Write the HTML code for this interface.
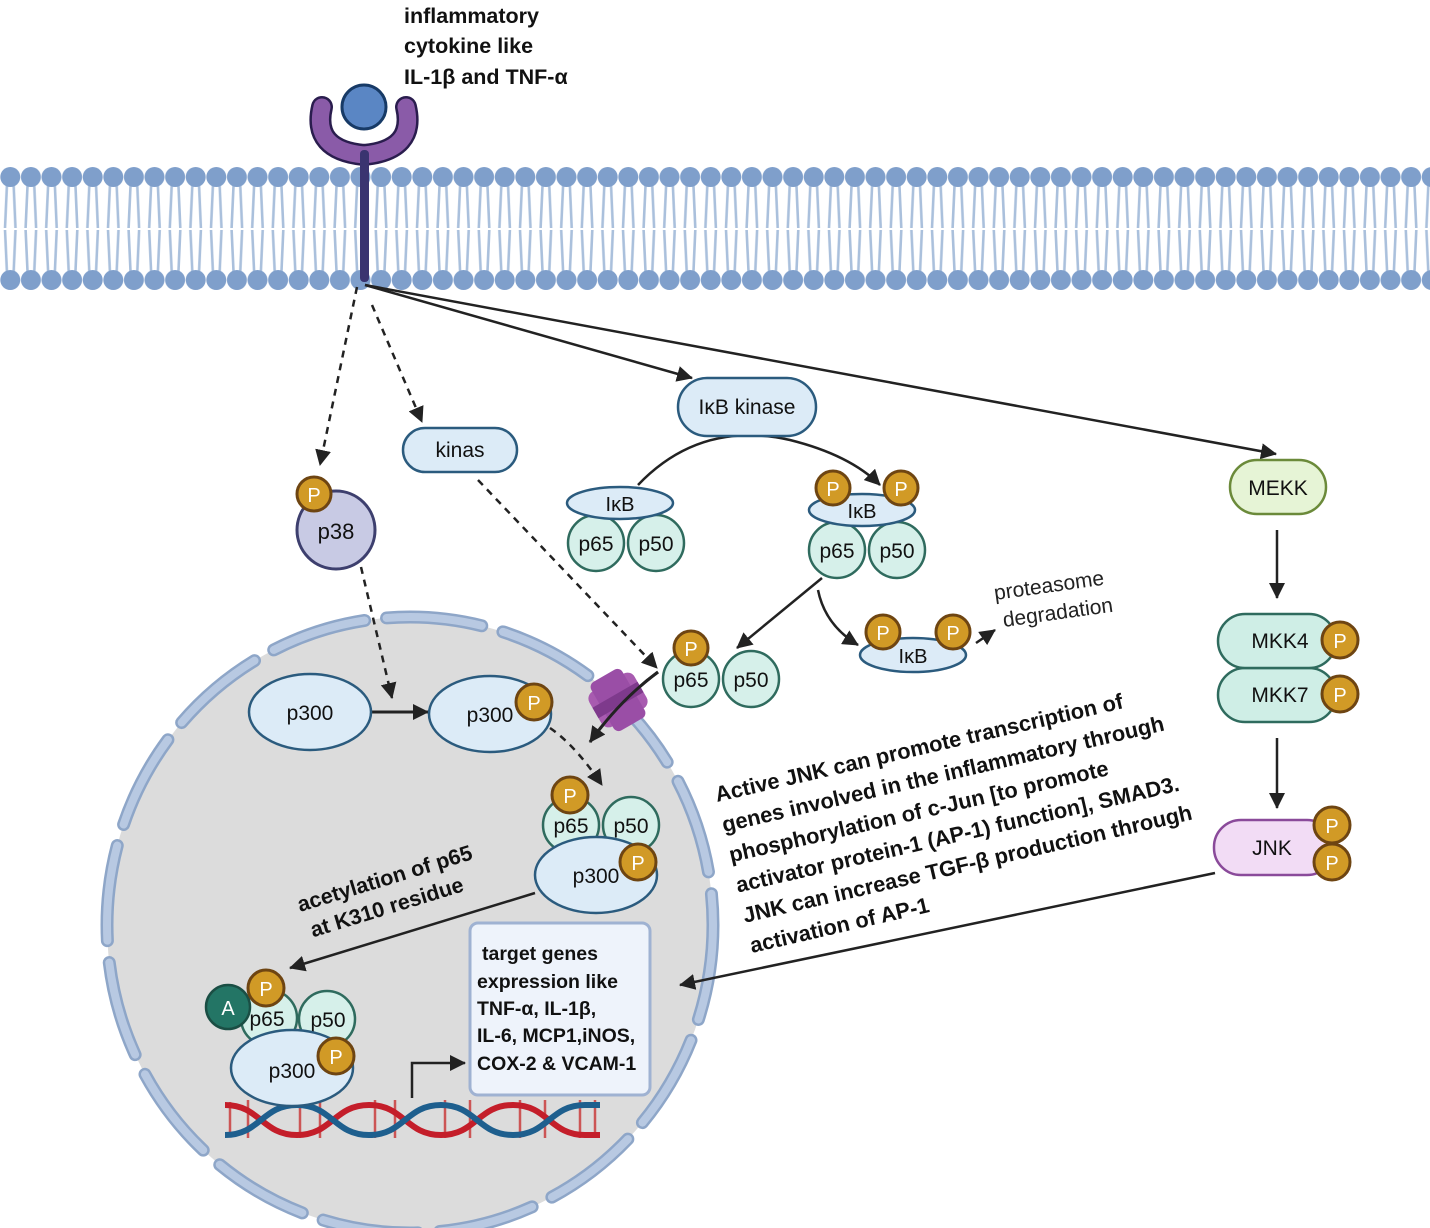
<!DOCTYPE html>
<html><head><meta charset="utf-8"><style>
html,body{margin:0;padding:0;background:#fff}
svg{display:block}
text{font-family:"Liberation Sans",sans-serif}
</style></head><body>
<svg width="1430" height="1228" viewBox="0 0 1430 1228" xmlns="http://www.w3.org/2000/svg">
<defs>
<pattern id="mem" x="0" y="0" width="20.6" height="300" patternUnits="userSpaceOnUse">
<path d="M7.3 177 L5 228 M13.3 177 L15.5 228 M5 230 L7.3 280 M15.5 230 L13.3 280" stroke="#aac0dc" stroke-width="2.6" fill="none"/>
<circle cx="10.3" cy="177" r="10" fill="#7f9fcb"/>
<circle cx="10.3" cy="280" r="10" fill="#7f9fcb"/>
</pattern>
<marker id="ab" markerWidth="18" markerHeight="16" refX="15" refY="8" orient="auto" markerUnits="userSpaceOnUse"><path d="M0 0 L16 8 L0 16 z" fill="#222"/></marker>
</defs>
<!-- membrane -->
<rect x="0" y="160" width="1430" height="135" fill="url(#mem)"/>
<!-- nucleus -->
<ellipse cx="410" cy="925" rx="303" ry="308" fill="#dcdcdc"/>
<ellipse cx="410" cy="925" rx="303" ry="308" fill="none" stroke="#8ea6c8" stroke-width="13" stroke-dasharray="96 22" stroke-linecap="round"/>
<ellipse cx="410" cy="925" rx="303" ry="308" fill="none" stroke="#b8c9e2" stroke-width="8" stroke-dasharray="96 22" stroke-linecap="round"/>
<!-- receptor -->
<path d="M322 107 Q312 150 364 155 Q416 150 406 107" fill="none" stroke="#2a1d4e" stroke-width="22" stroke-linecap="round"/>
<path d="M322 107 Q312 150 364 155 Q416 150 406 107" fill="none" stroke="#8a5ba8" stroke-width="17" stroke-linecap="round"/>
<rect x="360" y="150" width="9" height="132" rx="4" fill="#3a3470"/>
<circle cx="364" cy="107" r="22" fill="#5a86c4" stroke="#173a66" stroke-width="3"/>
<text font-weight="bold" font-size="21.5" fill="#111"><tspan x="404" y="23">inflammatory</tspan><tspan x="404" y="53">cytokine like</tspan><tspan x="404" y="84">IL-1β and TNF-α</tspan></text>
<!-- arrows -->
<g stroke="#222" stroke-width="2.5" fill="none">
<path d="M357 287 L320 465" stroke-dasharray="7 6" marker-end="url(#ab)"/>
<path d="M372 305 L422 422" stroke-dasharray="7 6" marker-end="url(#ab)"/>
<path d="M365 285 L692 378" marker-end="url(#ab)"/>
<path d="M365 285 L1276 454" marker-end="url(#ab)"/>
<path d="M478 480 L657 668" stroke-dasharray="7 6" marker-end="url(#ab)"/>
<path d="M361 567 L392 698" stroke-dasharray="7 6" marker-end="url(#ab)"/>
<path d="M372 712 L428 712" stroke-width="3" marker-end="url(#ab)"/>
<path d="M550 728 Q575 745 602 785" stroke-dasharray="7 6" marker-end="url(#ab)"/>
<path d="M658 672 Q620 700 590 742" stroke-width="3" marker-end="url(#ab)"/>
<path d="M638 485 Q700 420 790 440 Q850 455 880 485" marker-end="url(#ab)"/>
<path d="M822 578 L737 648" marker-end="url(#ab)"/>
<path d="M818 590 Q825 625 858 645" marker-end="url(#ab)"/>
<path d="M976 643 L995 630" marker-end="url(#ab)"/>
<path d="M1277 530 L1277 598" marker-end="url(#ab)"/>
<path d="M1277 738 L1277 808" marker-end="url(#ab)"/>
<path d="M1215 873 L680 985" marker-end="url(#ab)"/>
<path d="M535 893 L290 968" marker-end="url(#ab)"/>
<path d="M412 1098 L412 1063 L465 1063" stroke-width="2.5" marker-end="url(#ab)"/>
</g>
<!-- nuclear pore -->
<g transform="rotate(-30 618 700)">
<rect x="592" y="680" width="52" height="40" rx="8" fill="#a85bb0"/>
<rect x="600" y="672" width="36" height="56" rx="6" fill="#9a4ea6"/>
<rect x="592" y="694" width="52" height="12" fill="#7e3a8c"/>
</g>
<path d="M658 672 Q620 700 590 742" stroke="#222" stroke-width="3" fill="none"/>
<!-- p38 -->
<circle cx="336" cy="530" r="39" fill="#c8cae4" stroke="#3d3f6e" stroke-width="3"/>
<text x="336" y="539" font-size="22" text-anchor="middle" fill="#111">p38</text>
<circle cx="314" cy="494" r="17" fill="#d19a26" stroke="#6e4512" stroke-width="3"/><text x="314" y="502" font-size="20" fill="#fff" text-anchor="middle">P</text>
<!-- kinas -->
<rect x="403" y="428" width="114" height="44" rx="22" fill="#dcebf7" stroke="#2b5b7e" stroke-width="2.5"/>
<text x="460" y="457" font-size="21" text-anchor="middle" fill="#111">kinas</text>
<!-- IkB kinase -->
<rect x="678" y="378" width="138" height="58" rx="29" fill="#dcebf7" stroke="#2b5b7e" stroke-width="2.5"/>
<text x="747" y="414" font-size="21" text-anchor="middle" fill="#111">IκB kinase</text>
<!-- IkB complex left -->
<circle cx="596" cy="543" r="28" fill="#d6f0ea" stroke="#2f6b5e" stroke-width="2.5"/>
<circle cx="656" cy="543" r="28" fill="#d6f0ea" stroke="#2f6b5e" stroke-width="2.5"/>
<ellipse cx="620" cy="503" rx="53" ry="16" fill="#dcebf7" stroke="#2b5b7e" stroke-width="2.5"/>
<text x="620" y="511" font-size="20" text-anchor="middle" fill="#111">IκB</text>
<text x="596" y="551" font-size="21" text-anchor="middle" fill="#111">p65</text>
<text x="656" y="551" font-size="21" text-anchor="middle" fill="#111">p50</text>
<!-- IkB complex right -->
<circle cx="837" cy="550" r="28" fill="#d6f0ea" stroke="#2f6b5e" stroke-width="2.5"/>
<circle cx="897" cy="550" r="28" fill="#d6f0ea" stroke="#2f6b5e" stroke-width="2.5"/>
<ellipse cx="862" cy="510" rx="53" ry="16" fill="#dcebf7" stroke="#2b5b7e" stroke-width="2.5"/>
<text x="862" y="518" font-size="20" text-anchor="middle" fill="#111">IκB</text>
<text x="837" y="558" font-size="21" text-anchor="middle" fill="#111">p65</text>
<text x="897" y="558" font-size="21" text-anchor="middle" fill="#111">p50</text>
<circle cx="833" cy="488" r="17" fill="#d19a26" stroke="#6e4512" stroke-width="3"/><text x="833" y="496" font-size="20" fill="#fff" text-anchor="middle">P</text>
<circle cx="901" cy="488" r="17" fill="#d19a26" stroke="#6e4512" stroke-width="3"/><text x="901" y="496" font-size="20" fill="#fff" text-anchor="middle">P</text>
<!-- IkB degraded -->
<ellipse cx="913" cy="655" rx="53" ry="17" fill="#dcebf7" stroke="#2b5b7e" stroke-width="2.5"/>
<text x="913" y="663" font-size="20" text-anchor="middle" fill="#111">IκB</text>
<circle cx="883" cy="632" r="17" fill="#d19a26" stroke="#6e4512" stroke-width="3"/><text x="883" y="640" font-size="20" fill="#fff" text-anchor="middle">P</text>
<circle cx="953" cy="632" r="17" fill="#d19a26" stroke="#6e4512" stroke-width="3"/><text x="953" y="640" font-size="20" fill="#fff" text-anchor="middle">P</text>
<text font-size="21" fill="#222" transform="rotate(-8 995 600)"><tspan x="995" y="600">proteasome</tspan><tspan x="1000" y="628">degradation</tspan></text>
<!-- free p65 p50 -->
<circle cx="691" cy="679" r="28" fill="#d6f0ea" stroke="#2f6b5e" stroke-width="2.5"/>
<circle cx="751" cy="679" r="28" fill="#d6f0ea" stroke="#2f6b5e" stroke-width="2.5"/>
<text x="691" y="687" font-size="21" text-anchor="middle" fill="#111">p65</text>
<text x="751" y="687" font-size="21" text-anchor="middle" fill="#111">p50</text>
<circle cx="691" cy="648" r="17" fill="#d19a26" stroke="#6e4512" stroke-width="3"/><text x="691" y="656" font-size="20" fill="#fff" text-anchor="middle">P</text>
<!-- MEKK chain -->
<rect x="1230" y="460" width="96" height="54" rx="27" fill="#e6f4d6" stroke="#6b8a3a" stroke-width="2.5"/>
<text x="1278" y="495" font-size="21" text-anchor="middle" fill="#111">MEKK</text>
<rect x="1218" y="668" width="118" height="54" rx="27" fill="#cfeee6" stroke="#2f6b5e" stroke-width="2.5"/>
<rect x="1218" y="614" width="118" height="54" rx="27" fill="#cfeee6" stroke="#2f6b5e" stroke-width="2.5"/>
<text x="1280" y="648" font-size="21" text-anchor="middle" fill="#111">MKK4</text>
<text x="1280" y="702" font-size="21" text-anchor="middle" fill="#111">MKK7</text>
<circle cx="1340" cy="640" r="18" fill="#d19a26" stroke="#6e4512" stroke-width="3"/><text x="1340" y="648" font-size="20" fill="#fff" text-anchor="middle">P</text>
<circle cx="1340" cy="694" r="18" fill="#d19a26" stroke="#6e4512" stroke-width="3"/><text x="1340" y="702" font-size="20" fill="#fff" text-anchor="middle">P</text>
<rect x="1214" y="820" width="120" height="55" rx="27" fill="#f2dcf5" stroke="#8a4a9a" stroke-width="2.5"/>
<text x="1272" y="855" font-size="21" text-anchor="middle" fill="#111">JNK</text>
<circle cx="1332" cy="825" r="18" fill="#d19a26" stroke="#6e4512" stroke-width="3"/><text x="1332" y="833" font-size="20" fill="#fff" text-anchor="middle">P</text>
<circle cx="1332" cy="862" r="18" fill="#d19a26" stroke="#6e4512" stroke-width="3"/><text x="1332" y="870" font-size="20" fill="#fff" text-anchor="middle">P</text>
<!-- JNK text -->
<g transform="rotate(-13 717 802)" font-weight="bold" font-size="21.8" fill="#111">
<text x="717" y="802">Active JNK can promote transcription of</text>
<text x="717" y="833">genes involved in the inflammatory through</text>
<text x="717" y="864">phosphorylation of c-Jun [to promote</text>
<text x="717" y="895">activator protein-1 (AP-1) function], SMAD3.</text>
<text x="717" y="926">JNK can increase TGF-β production through</text>
<text x="717" y="957">activation of AP-1</text>
</g>
<!-- p300 -->
<ellipse cx="310" cy="712" rx="61" ry="38" fill="#dcebf7" stroke="#2b5b7e" stroke-width="2.5"/>
<text x="310" y="720" font-size="21" text-anchor="middle" fill="#111">p300</text>
<ellipse cx="490" cy="714" rx="61" ry="38" fill="#dcebf7" stroke="#2b5b7e" stroke-width="2.5"/>
<text x="490" y="722" font-size="21" text-anchor="middle" fill="#111">p300</text>
<circle cx="534" cy="702" r="18" fill="#d19a26" stroke="#6e4512" stroke-width="3"/><text x="534" y="710" font-size="20" fill="#fff" text-anchor="middle">P</text>
<!-- complex middle -->
<circle cx="571" cy="825" r="28" fill="#d6f0ea" stroke="#2f6b5e" stroke-width="2.5"/>
<circle cx="631" cy="825" r="28" fill="#d6f0ea" stroke="#2f6b5e" stroke-width="2.5"/>
<text x="571" y="833" font-size="21" text-anchor="middle" fill="#111">p65</text>
<text x="631" y="833" font-size="21" text-anchor="middle" fill="#111">p50</text>
<ellipse cx="596" cy="875" rx="61" ry="38" fill="#dcebf7" stroke="#2b5b7e" stroke-width="2.5"/>
<text x="596" y="883" font-size="21" text-anchor="middle" fill="#111">p300</text>
<circle cx="570" cy="795" r="18" fill="#d19a26" stroke="#6e4512" stroke-width="3"/><text x="570" y="803" font-size="20" fill="#fff" text-anchor="middle">P</text>
<circle cx="638" cy="862" r="18" fill="#d19a26" stroke="#6e4512" stroke-width="3"/><text x="638" y="870" font-size="20" fill="#fff" text-anchor="middle">P</text>
<text font-weight="bold" font-size="21.5" fill="#111" transform="rotate(-17 300 912)"><tspan x="300" y="912">acetylation of p65</tspan><tspan x="305" y="940">at K310 residue</tspan></text>
<!-- DNA -->
<path d="M230 1102 L230 1136 M248 1100 L248 1138 M300 1100 L300 1138 M320 1100 L320 1138 M375 1100 L375 1138 M395 1100 L395 1138 M445 1100 L445 1138 M470 1100 L470 1138 M520 1100 L520 1138 M545 1100 L545 1138 M580 1100 L580 1138 M595 1100 L595 1138" stroke="#c55" stroke-width="2.5"/>
<path d="M225 1105 C260 1105 262 1135 297 1135 C332 1135 334 1105 369 1105 C404 1105 406 1135 441 1135 C476 1135 478 1105 513 1105 C548 1105 550 1135 585 1135 L600 1135" fill="none" stroke="#c41e2a" stroke-width="6"/>
<path d="M225 1135 C260 1135 262 1105 297 1105 C332 1105 334 1135 369 1135 C404 1135 406 1105 441 1105 C476 1105 478 1135 513 1135 C548 1135 550 1105 585 1105 L600 1105" fill="none" stroke="#1e5f8e" stroke-width="6"/>
<!-- bottom complex -->
<circle cx="269" cy="1018" r="28" fill="#d6f0ea" stroke="#2f6b5e" stroke-width="2.5"/>
<circle cx="327" cy="1019" r="28" fill="#d6f0ea" stroke="#2f6b5e" stroke-width="2.5"/>
<text x="267" y="1026" font-size="21" text-anchor="middle" fill="#111">p65</text>
<text x="328" y="1027" font-size="21" text-anchor="middle" fill="#111">p50</text>
<ellipse cx="292" cy="1068" rx="61" ry="38" fill="#dcebf7" stroke="#2b5b7e" stroke-width="2.5"/>
<text x="292" y="1078" font-size="21" text-anchor="middle" fill="#111">p300</text>
<circle cx="228" cy="1007" r="22" fill="#237565" stroke="#1a4e44" stroke-width="2.5"/><text x="228" y="1015" font-size="20" fill="#fff" text-anchor="middle">A</text>
<circle cx="266" cy="988" r="18" fill="#d19a26" stroke="#6e4512" stroke-width="3"/><text x="266" y="996" font-size="20" fill="#fff" text-anchor="middle">P</text>
<circle cx="336" cy="1056" r="18" fill="#d19a26" stroke="#6e4512" stroke-width="3"/><text x="336" y="1064" font-size="20" fill="#fff" text-anchor="middle">P</text>
<!-- target genes box -->
<rect x="470" y="923" width="180" height="172" rx="8" fill="#eef3fb" stroke="#9fb2d2" stroke-width="3"/>
<text font-weight="bold" font-size="19.5" fill="#111"><tspan x="482" y="960">target genes</tspan><tspan x="477" y="988">expression like</tspan><tspan x="477" y="1015">TNF-α, IL-1β,</tspan><tspan x="477" y="1042">IL-6, MCP1,iNOS,</tspan><tspan x="477" y="1070">COX-2 &amp; VCAM-1</tspan></text>
</svg>
</body></html>
